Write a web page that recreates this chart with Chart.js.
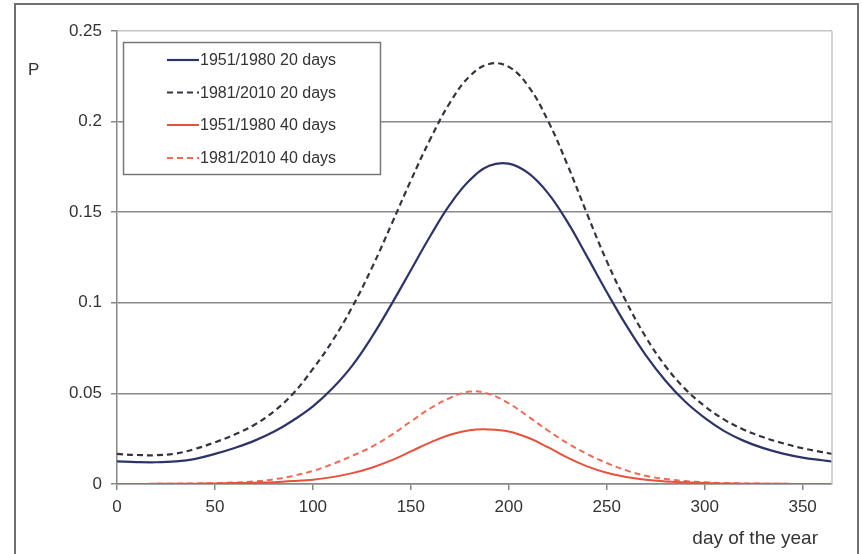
<!DOCTYPE html>
<html>
<head>
<meta charset="utf-8">
<script src="https://cdn.jsdelivr.net/npm/chart.js@4.4.1/dist/chart.umd.min.js"></script>
<style>
  body { margin: 0; background: #fff; }
  canvas { display: block; }
</style>
</head>
<body>
<canvas id="myChart" width="862" height="554"></canvas>
<script>
// day of the year
var days = [0, 10, 20, 30, 40, 50, 60, 70, 80, 90, 100, 110, 120, 130, 140, 150, 160, 170, 180,
            190, 200, 210, 220, 230, 240, 250, 260, 270, 280, 290, 300, 310, 320, 330, 340, 350, 360, 365];

var p20_1951 = [0.0125, 0.0121, 0.0120, 0.0125, 0.0139, 0.0166, 0.0199, 0.0238, 0.0288, 0.0352, 0.0428, 0.0528, 0.0652, 0.0810, 0.0990,
                0.1180, 0.1370, 0.1543, 0.1676, 0.1756, 0.1768, 0.1715, 0.1605, 0.1445, 0.1255, 0.1060, 0.0875, 0.0710, 0.0570,
                0.0455, 0.0365, 0.0292, 0.0238, 0.0198, 0.0168, 0.0146, 0.0131, 0.0124];

var p20_1981 = [0.0166, 0.0160, 0.0159, 0.0168, 0.0194, 0.0230, 0.0273, 0.0326, 0.0400, 0.0500, 0.0635, 0.0790, 0.0975, 0.1190, 0.1430,
                0.1675, 0.1905, 0.2105, 0.2250, 0.2318, 0.2302, 0.2195, 0.2005, 0.1760, 0.1490, 0.1230, 0.1005, 0.0810, 0.0650,
                0.0525, 0.0430, 0.0355, 0.0300, 0.0258, 0.0225, 0.0197, 0.0176, 0.0166];

var p40_1951 = [0, 0, 0.0001, 0.0001, 0.0002, 0.0003, 0.0005, 0.0007, 0.0010, 0.0016, 0.0024, 0.0038, 0.0060, 0.0090, 0.0130,
                0.0180, 0.0230, 0.0272, 0.0297, 0.0301, 0.0290, 0.0255, 0.0203, 0.0145, 0.0097, 0.0062, 0.0039, 0.0023, 0.0014,
                0.0009, 0.0005, 0.0003, 0.0002, 0.0001, 0.0001, 0, 0, 0];

var p40_1981 = [0, 0, 0.0001, 0.0002, 0.0003, 0.0005, 0.0008, 0.0014, 0.0026, 0.0045, 0.0072, 0.0110, 0.0155, 0.0205, 0.0270,
                0.0345, 0.0418, 0.0475, 0.0510, 0.0497, 0.0445, 0.0372, 0.0295, 0.0225, 0.0165, 0.0116, 0.0075, 0.0045, 0.0028,
                0.0016, 0.0009, 0.0005, 0.0003, 0.0002, 0.0001, 0, 0, 0];

var seriesLabels = ["1951/1980 20 days", "1981/2010 20 days", "1951/1980 40 days", "1981/2010 40 days"];
var xTicks = [0, 50, 100, 150, 200, 250, 300, 350];
var yTicks = [0, 0.05, 0.1, 0.15, 0.2, 0.25];
var yTickLabels = ["0", "0.05", "0.1", "0.15", "0.2", "0.25"];

function pts(arr) {
  return days.map(function (d, i) { return { x: d, y: arr[i] }; });
}

var FONT = "'Liberation Sans', Arial, sans-serif";

// frame, axis titles, legend box
var decorations = {
  id: 'decorations',
  beforeDraw: function (chart) {
    var c = chart.ctx;
    c.save();
    c.fillStyle = '#fff';
    c.fillRect(0, 0, chart.width, chart.height);
    c.restore();
  },
  afterDraw: function (chart) {
    var c = chart.ctx, a = chart.chartArea;
    c.save();
    // right edge of plot
    c.strokeStyle = '#c4c4c4';
    c.lineWidth = 1.5;
    c.beginPath();
    c.moveTo(a.right, a.top);
    c.lineTo(a.right, a.bottom);
    c.stroke();

    // outer border
    c.strokeStyle = '#707070';
    c.lineWidth = 2;
    c.strokeRect(15, 4, 843, 560);

    // axis titles
    c.fillStyle = '#333';
    c.font = '17px ' + FONT;
    c.textBaseline = 'middle';
    c.textAlign = 'left';
    c.fillText('P', 28, 70);
    c.font = '19px ' + FONT;
    c.textAlign = 'right';
    c.fillText('day of the year', 818, 539);

    // legend
    c.fillStyle = '#fff';
    c.fillRect(123, 42, 257, 132);
    c.strokeStyle = '#777';
    c.lineWidth = 1.5;
    c.strokeRect(123.5, 42.5, 257, 132);
    var rowY = [60, 92.5, 125, 158];
    c.font = '16px ' + FONT;
    c.textAlign = 'left';
    chart.data.datasets.forEach(function (ds, i) {
      c.strokeStyle = ds.borderColor;
      c.lineWidth = ds.borderWidth;
      c.setLineDash(ds.borderDash || []);
      c.beginPath();
      c.moveTo(167, rowY[i]);
      c.lineTo(199, rowY[i]);
      c.stroke();
      c.setLineDash([]);
      c.fillStyle = '#333';
      c.fillText(ds.label, 200, rowY[i] + 1);
    });
    c.restore();
  }
};

var ctx = document.getElementById("myChart").getContext('2d');

var myChart = new Chart(ctx, {
  type: 'line',
  data: {
    datasets: [{
      label: seriesLabels[0],
      data: pts(p20_1951),
      borderColor: '#2c3468',
      borderWidth: 2.2
    }, {
      label: seriesLabels[1],
      data: pts(p20_1981),
      borderColor: '#34343f',
      borderWidth: 2.2,
      borderDash: [6, 4]
    }, {
      label: seriesLabels[2],
      data: pts(p40_1951),
      borderColor: '#e8513b',
      borderWidth: 2
    }, {
      label: seriesLabels[3],
      data: pts(p40_1981),
      borderColor: '#ee6b55',
      borderWidth: 2,
      borderDash: [6, 4]
    }]
  },
  options: {
    responsive: false,
    animation: false,
    parsing: false,
    elements: {
      point: { radius: 0 },
      line: { tension: 0.4, fill: false }
    },
    layout: { padding: { top: 31, right: 30, bottom: 0, left: 0 } },
    plugins: {
      legend: { display: false },
      tooltip: { enabled: false }
    },
    scales: {
      x: {
        type: 'linear',
        min: 0,
        max: 365,
        afterBuildTicks: function (s) { s.ticks = xTicks.map(function (v) { return { value: v }; }); },
        afterFit: function (s) { s.height = 70; },
        ticks: {
          autoSkip: false,
          maxRotation: 0,
          padding: 7,
          color: '#333',
          font: { family: FONT, size: 17 },
          callback: function (v) { return String(v); }
        },
        grid: { drawOnChartArea: false, drawTicks: true, tickLength: 6, tickColor: '#888', lineWidth: 1.5 },
        border: { color: '#888', width: 1.5 }
      },
      y: {
        min: 0,
        max: 0.25,
        afterBuildTicks: function (s) { s.ticks = yTicks.map(function (v) { return { value: v }; }); },
        afterFit: function (s) { s.width = 117; },
        ticks: {
          padding: 9,
          color: '#333',
          font: { family: FONT, size: 17 },
          callback: function (v, i) { return yTickLabels[i]; }
        },
        grid: {
          color: function (c) { return c.tick && c.tick.value === 0.25 ? '#c4c4c4' : '#8a8a8a'; },
          lineWidth: 1.5,
          tickLength: 6,
          tickColor: '#888'
        },
        border: { color: '#888', width: 1.5 }
      }
    }
  },
  plugins: [decorations]
});
</script>
</body>
</html>
